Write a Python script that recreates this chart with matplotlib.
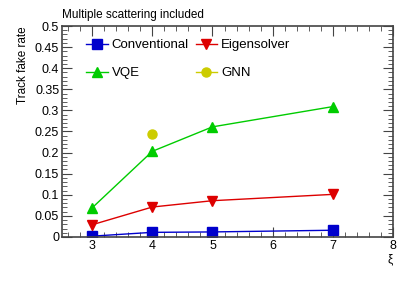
import matplotlib.pyplot as plt
from matplotlib.ticker import MultipleLocator

plt.rcParams['font.family'] = ['Liberation Sans', 'DejaVu Sans']

# data
xi = [3, 4, 5, 7]
conventional = [0.002, 0.011, 0.012, 0.016]
eigensolver = [0.029, 0.071, 0.086, 0.101]
vqe = [0.069, 0.203, 0.261, 0.309]
gnn_x = [4]
gnn = [0.245]

fig = plt.figure(figsize=(4.14, 2.82), dpi=100)
ax = fig.add_axes([0.1498, 0.1596, 0.7995, 0.7482])

h1, = ax.plot(xi, conventional, color='#0000cc', marker='s', markersize=6.5, lw=1, label='Conventional')
h2, = ax.plot(xi, eigensolver, color='#dd0000', marker='v', markersize=7, lw=1, label='Eigensolver')
h3, = ax.plot(xi, vqe, color='#00cc00', marker='^', markersize=7, lw=1, label='VQE')
h4, = ax.plot(gnn_x, gnn, color='#cccc00', marker='o', markersize=6.5, lw=1, label='GNN')

ax.set_xlim(2.5, 8)
ax.set_ylim(0, 0.5)
ax.xaxis.set_major_locator(MultipleLocator(1))
ax.xaxis.set_minor_locator(MultipleLocator(0.2))
ax.yaxis.set_minor_locator(MultipleLocator(0.01))
ax.set_yticks([0, 0.05, 0.1, 0.15, 0.2, 0.25, 0.3, 0.35, 0.4, 0.45, 0.5])
ax.set_yticklabels(['0', '0.05', '0.1', '0.15', '0.2', '0.25', '0.3', '0.35', '0.4', '0.45', '0.5'])
ax.tick_params(which='both', direction='in', top=True, right=True, labelsize=9,
               color='#444444', pad=2)
ax.tick_params(which='major', length=7)
ax.tick_params(which='minor', length=3.5)
for s in ax.spines.values():
    s.set_color('#444444')
    s.set_linewidth(1.2)

ax.set_ylabel('Track fake rate', fontsize=8.5, loc='top')
ax.set_xlabel('ξ', fontsize=8.5, loc='right', labelpad=1)
ax.text(0, 1.025, 'Multiple scattering included', transform=ax.transAxes,
        fontsize=8.5, ha='left', va='bottom')

# row-wise legend order
ax.legend([h1, h3, h2, h4], ['Conventional', 'VQE', 'Eigensolver', 'GNN'],
          ncol=2, loc='upper left', bbox_to_anchor=(0.05, 0.975), frameon=False,
          fontsize=9.5, handlelength=1.6, handletextpad=0.3, columnspacing=0.55,
          labelspacing=1.2, borderaxespad=0.2)

plt.savefig('out.png', dpi=100)
